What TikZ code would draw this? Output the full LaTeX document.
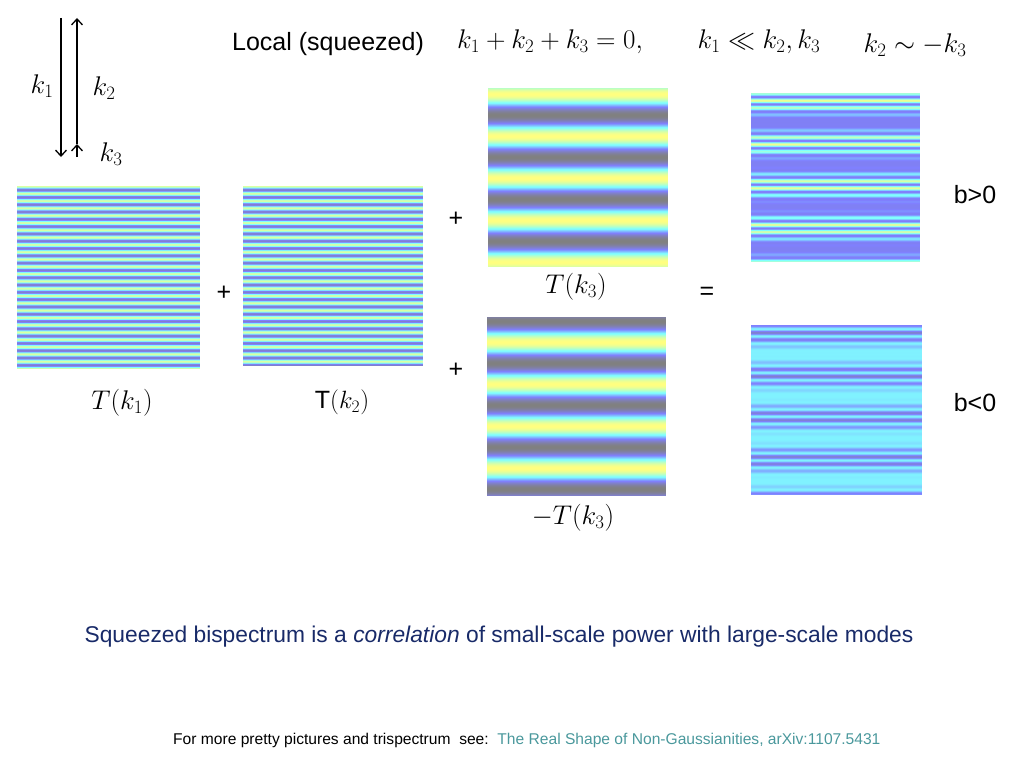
\RequirePackage{fix-cm}
\documentclass[tikz,border=0pt]{standalone}
\usepackage{amsmath}
\usepackage{amssymb}
\usepackage{fontspec}
\setmainfont{Liberation Sans}
\usepackage{tikz}
\usetikzlibrary{arrows.meta}
\definecolor{navytext}{RGB}{24,42,104}
\definecolor{linkteal}{RGB}{74,152,156}
\newcommand{\bigsize}{\fontsize{25}{30}\selectfont}
\newcommand{\mathsize}{\fontsize{27}{31}\selectfont}
% one panel of horizontal stripes: x0, y0, width, last row, colour value t(\yy) in [0,1]
\newcommand{\stripepanel}[5]{%
  \foreach \yy in {0,...,#4} {
    \pgfmathsetmacro{\tval}{#5}
    \pgfmathsetmacro{\rv}{0.5+0.5*min(1,max(0,(\tval-0.65)/0.35))}
    \pgfmathsetmacro{\gv}{0.5+0.5*min(1,max(0,(\tval-0.33)/0.3))}
    \pgfmathsetmacro{\bv}{0.5+0.5*min(1,max(0,\tval/0.33))-0.5*min(1,max(0,(\tval-0.65)/0.35))}
    \definecolor{rowc}{rgb}{\rv,\gv,\bv}
    \fill[rowc] (#1,#2+\yy) rectangle (#1+#3,#2+\yy+1.05);
  }}
\tikzstyle{plain}=[inner sep=0, outer sep=2pt, font=\bigsize]
\tikzstyle{mathlabel}=[inner sep=0, outer sep=2pt, font=\mathsize]
\tikzstyle{kvec}=[line width=1.3pt, -{Straight Barb[length=6pt,width=11pt]}]

\begin{document}
\begin{tikzpicture}[x=1pt, y=-1pt]
    \useasboundingbox (0,0) rectangle (1024,768);
    % the three wave vectors
    \coordinate (k1top) at (61,18);
    \coordinate (k1bot) at (61,157);
    \coordinate (k3bot) at (77,157);
    \coordinate (k3top) at (77,144);
    \coordinate (k2top) at (77,18);
    \draw[kvec] (k1top) -- (k1bot);
    \draw[kvec] (k3top) -- (k2top);
    \draw[kvec] (k3bot) -- (k3top);
    \node[mathlabel] (k1lab) at (42,86) {$k_1$};
    \node[mathlabel] (k2lab) at (104,88) {$k_2$};
    \node[mathlabel] (k3lab) at (111,154) {$k_3$};
    % heading
    \node[plain] (title) at (328,44) {Local (squeezed)};
    \node[mathlabel] (cons) at (550,42) {$k_1+k_2+k_3=0,$};
    \node[mathlabel] (hier) at (759,42) {$k_1\ll k_2,k_3$};
    \node[mathlabel] (anti) at (915,45) {$k_2\sim -k_3$};
    % small-scale modes
    \stripepanel{17}{186}{183}{182}{0.55+0.35*cos((360/7.3)*\yy)}
    \stripepanel{243}{186}{180}{179}{0.55+0.35*cos((360/7.3)*\yy)}
    % large-scale modes
    \stripepanel{488}{88}{180}{178}{0.5+0.5*cos((360/42)*(\yy-6))}
    \stripepanel{487}{317}{179}{178}{0.5-0.5*cos((360/42)*(\yy-4))}
    % modulated sums
    \stripepanel{751}{93}{169}{168}{0.3+0.33*(1+cos((360/42)*(\yy-8)))*(0.5+0.5*cos((360/7.3)*\yy))}
    \stripepanel{751}{325}{171}{169}{0.6-0.2*(1+cos((360/42)*(\yy-8)))*(0.5+0.5*cos((360/7.3)*\yy))}
    % labels under and beside the panels
    \node[mathlabel] (Tk1) at (122,403) {$T(k_1)$};
    \node[plain] (Tk2) at (342,402) {T$(k_2)$};
    \node[mathlabel] (Tk3) at (576,287) {$T(k_3)$};
    \node[mathlabel] (mTk3) at (573,518) {$-T(k_3)$};
    \node[plain] (plusA) at (224,293) {+};
    \node[plain] (plusB) at (456,219) {+};
    \node[plain] (plusC) at (456,370) {+};
    \node[plain] (equal) at (707,293) {=};
    \node[plain] (bpos) at (975,195) {b>0};
    \node[plain] (bneg) at (975,403) {b<0};
    % message
    \node[inner sep=0, text=navytext, font=\fontsize{22.8}{26}\selectfont] (msg) at (499,637)
        {Squeezed bispectrum is a \textit{correlation} of small-scale power with large-scale modes};
    \node[inner sep=0, anchor=west, font=\fontsize{15.6}{18}\selectfont] (more) at (173,740)
        {For more pretty pictures and trispectrum\ \ see:\ \ \textcolor{linkteal}{The Real Shape of Non-Gaussianities, arXiv:1107.5431}};
\end{tikzpicture}
\end{document}
